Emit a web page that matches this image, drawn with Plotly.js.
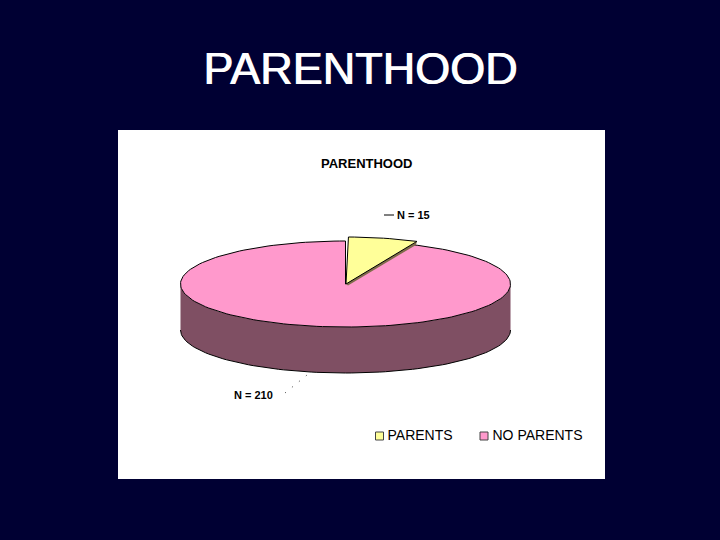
<!DOCTYPE html>
<html>
<head>
<meta charset="utf-8">
<script src="https://cdn.plot.ly/plotly-3.0.1.min.js"></script>
<style>html,body{margin:0;padding:0;background:#000033}#c{width:720px;height:540px}</style>
</head>
<body>
<div id="c"></div>
<script>
const categories = ["PARENTS", "NO PARENTS"];
const values = [15, 210];
const valueLabels = ["N = 15", "N = 210"];
const slideTitle = "PARENTHOOD";
const chartTitle = "PARENTHOOD";
const sliceColors = ["#FFFF99", "#FF99CC"];
const wallColor = "#7F4F63";
const sliverColor = "#7F6B4A";

const FONT = "Liberation Sans, Arial, sans-serif";
const total = values.reduce((a, b) => a + b, 0);
const sweep = values[0] / total * 360;
const cx = 345.5, cy = 284, rx = 165, ry = 43, depth = 46;
const rad = d => d * Math.PI / 180;
function arc(a0, a1, rxx, ryy, dy) {
  const xs = [], ys = [];
  const n = Math.max(2, Math.ceil(Math.abs(a1 - a0) / 2));
  for (let i = 0; i <= n; i++) {
    const t = rad(a0 + (a1 - a0) * i / n);
    xs.push(cx + rxx * Math.sin(t));
    ys.push(cy + dy - ryy * Math.cos(t));
  }
  return [xs, ys];
}
function poly(x, y, fill, name, w) {
  return {type: "scatter", mode: "lines", x, y, fill: "toself", fillcolor: fill,
    line: {color: w === 0 ? fill : "#000000", width: w === undefined ? 1 : w}, name, hoverinfo: "skip", showlegend: false};
}
const traces = [];
// side wall: fill without vertical outline, then only the lower rim in black
const [wx1, wy1] = arc(90, 270, rx, ry, 0);
const [wx2, wy2] = arc(270, 90, rx, ry, depth);
traces.push(poly(wx1.concat(wx2), wy1.concat(wy2), wallColor, "wall", 0));
traces.push({type: "scatter", mode: "lines", x: wx2, y: wy2, line: {color: "#000", width: 1}, hoverinfo: "skip", showlegend: false});
// main slice top
const [px, py] = arc(sweep, 360, rx, ry, 0);
traces.push(poly([cx].concat(px, [cx]), [cy].concat(py, [cy]), sliceColors[1], categories[1]));
// small slice top geometry
const [sx, sy] = arc(1, 1 + sweep, rx + 4, ry + 4, 0);
const tipX = sx[sx.length - 1], tipY = sy[sy.length - 1];
// exposed side of the small slice, a band under its cut edge
traces.push(poly([cx + 0.5, tipX, tipX - 1, cx + 2.5], [cy, tipY, tipY + 3.5, cy + 1.5], sliverColor, "side", 0));
traces.push(poly([cx + 0.5].concat(sx, [cx + 0.5]), [cy].concat(sy, [cy]), sliceColors[0], categories[0]));
// leader lines
traces.push({type: "scatter", mode: "lines", x: [384, 394], y: [215, 215], line: {color: "#000", width: 1}, hoverinfo: "skip", showlegend: false});
traces.push({type: "scatter", mode: "lines", x: [285, 307], y: [393, 375], line: {color: "#333", width: 1, dash: "1px 8px"}, hoverinfo: "skip", showlegend: false});
// legend swatches and labels
traces.push({type: "scatter", mode: "markers", x: [379.5, 484], y: [436, 436],
  marker: {symbol: "square", size: 8, color: sliceColors, line: {color: "#444", width: 1}},
  hoverinfo: "skip", showlegend: false});
traces.push({type: "scatter", mode: "text", x: [387.5, 492.5], y: [436, 436], text: categories,
  textposition: "middle right", textfont: {family: FONT, size: 14, color: "#000"},
  hoverinfo: "skip", showlegend: false});

const layout = {
  width: 720, height: 540, margin: {l: 0, r: 0, t: 0, b: 0},
  paper_bgcolor: "#000033", plot_bgcolor: "#000033", showlegend: false,
  xaxis: {range: [0, 720], visible: false, fixedrange: true},
  yaxis: {range: [540, 0], visible: false, fixedrange: true},
  shapes: [{type: "rect", layer: "below", x0: 118, x1: 605, y0: 130, y1: 479, fillcolor: "#FFFFFF", line: {width: 0}}],
  annotations: [
    {x: 360, y: 68, text: slideTitle, font: {family: FONT, size: 45, color: "#FFFFFF", shadow: "1px 0 0 #FFFFFF"}},
    {x: 366.5, y: 163.5, text: "<b>" + chartTitle + "</b>", font: {family: FONT, size: 13, color: "#000"}},
    {x: 413, y: 215, text: "<b>" + valueLabels[0] + "</b>", font: {family: FONT, size: 11, color: "#000"}},
    {x: 253, y: 395, text: "<b>" + valueLabels[1] + "</b>", font: {family: FONT, size: 11, color: "#000"}}
  ].map(a => Object.assign({xref: "x", yref: "y", showarrow: false, xanchor: "center", yanchor: "middle"}, a))
};
Plotly.newPlot("c", traces, layout, {displayModeBar: false, staticPlot: true});
</script>
</body>
</html>
